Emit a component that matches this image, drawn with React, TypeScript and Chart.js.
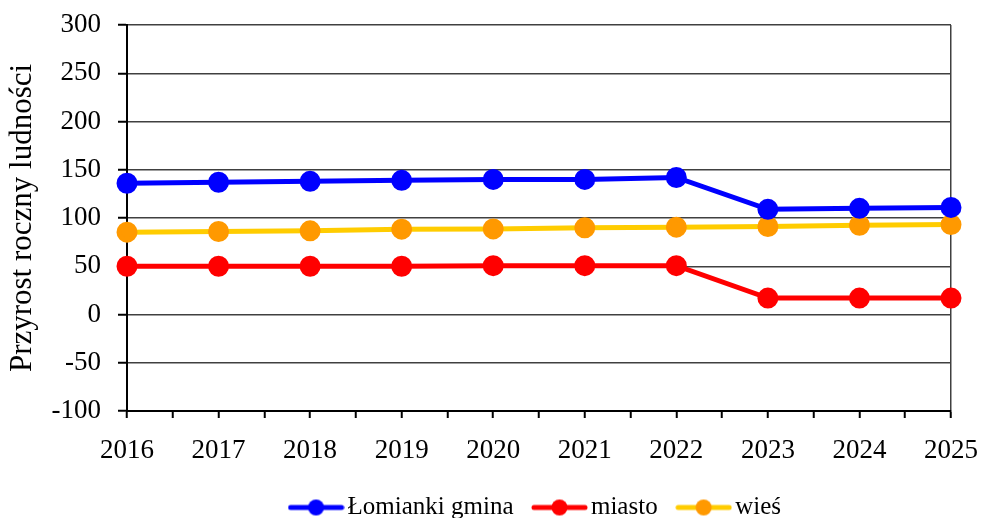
import React, { useEffect, useRef } from 'react';
import { Chart, registerables } from 'chart.js';

Chart.register(...registerables);

const years = ['2016', '2017', '2018', '2019', '2020', '2021', '2022', '2023', '2024', '2025'];
const gmina = [136, 137, 138, 139, 140, 140, 142, 109, 110, 111];
const miasto = [50, 50, 50, 50, 50.6, 50.6, 50.6, 17, 17, 17];
const wies = [85.3, 86, 86.7, 88.4, 88.7, 89.8, 90.5, 91.2, 92.5, 93.2];
const seriesNames = ['Łomianki gmina', 'miasto', 'wieś'];
const yMin = -100;
const yMax = 300;
const yStep = 50;

const lineColors = ['#0000FF', '#FF0000', '#FFCC00'];
const pointColors = ['#0000FF', '#FF0000', '#FF9900'];
const FONT = '"Liberation Serif", "Times New Roman", serif';

function makeIcon(line: string, dot: string): HTMLCanvasElement {
  const w = 57;
  const h = 18;
  const c = document.createElement('canvas');
  c.width = w;
  c.height = h;
  const ctx = c.getContext('2d')!;
  ctx.strokeStyle = line;
  ctx.lineWidth = 5;
  ctx.lineCap = 'round';
  ctx.beginPath();
  ctx.moveTo(3, h / 2);
  ctx.lineTo(w - 3, h / 2);
  ctx.stroke();
  ctx.fillStyle = dot;
  ctx.beginPath();
  ctx.arc(w / 2, h / 2, 8, 0, Math.PI * 2);
  ctx.fill();
  return c;
}

export default function App() {
  const ref = useRef<HTMLCanvasElement | null>(null);

  useEffect(() => {
    if (!ref.current) return;
    const icons = [0, 1, 2].map((i) => makeIcon(lineColors[i], pointColors[i]));
    const data = [gmina, miasto, wies];
    const lastIdx = years.length - 1;
    const chart = new Chart(ref.current, {
      type: 'line',
      data: {
        datasets: data.map((d, i) => ({
          label: seriesNames[i],
          data: d.map((v, k) => ({ x: k, y: v })),
          borderColor: lineColors[i],
          backgroundColor: pointColors[i],
          pointBackgroundColor: pointColors[i],
          pointBorderColor: pointColors[i],
          borderWidth: 5,
          pointRadius: 8,
          pointHoverRadius: 8,
          tension: 0,
          fill: false,
          clip: false as any,
        })),
      },
      options: {
        animation: false,
        responsive: true,
        maintainAspectRatio: false,
        layout: { padding: { top: 25, right: 31, bottom: 0, left: 0 } },
        plugins: {
          tooltip: { enabled: false },
          legend: {
            position: 'bottom',
            fullSize: false,
            labels: {
              color: '#000',
              font: { family: FONT, size: 25 },
              usePointStyle: true,
              pointStyleWidth: 38,
              padding: 27,
              generateLabels: (c: any) => {
                const items = Chart.defaults.plugins.legend.labels.generateLabels(c);
                items.forEach((it: any, i: number) => {
                  it.pointStyle = icons[i];
                });
                return items;
              },
            },
          },
        },
        scales: {
          x: {
            type: 'linear',
            min: 0,
            max: lastIdx,
            offset: false,
            afterFit: (s: any) => {
              s.height = 57;
              s.paddingLeft = 0;
              s.paddingRight = 0;
              s.paddingTop = 0;
              s.paddingBottom = 0;
            },
            border: { display: true, color: '#000', width: 2 },
            grid: {
              drawOnChartArea: true,
              color: (ctx: any) => (ctx.tick && ctx.tick.value === lastIdx ? '#404040' : 'rgba(0,0,0,0)'),
              lineWidth: 1.5,
              drawTicks: true,
              tickLength: 7,
              tickColor: '#000',
              tickWidth: 2,
            },
            ticks: {
              stepSize: 0.5,
              color: '#000',
              font: { family: FONT, size: 27 },
              padding: 17,
              maxRotation: 0,
              autoSkip: false,
              callback: (v: any) => (Number.isInteger(v) ? years[v] : ''),
            },
          },
          y: {
            min: yMin,
            max: yMax,
            afterFit: (s: any) => {
              s.width = 127;
              s.paddingTop = 0;
              s.paddingBottom = 0;
              s.paddingLeft = 0;
              s.paddingRight = 0;
            },
            border: { display: true, color: '#000', width: 2 },
            grid: {
              color: '#404040',
              lineWidth: 1.5,
              drawTicks: true,
              tickLength: 9,
              tickColor: '#000',
              tickWidth: 2,
            },
            ticks: {
              stepSize: yStep,
              color: '#000',
              font: { family: FONT, size: 27 },
              padding: 17,
            },
            title: {
              display: true,
              text: 'Przyrost roczny ludności',
              color: '#000',
              font: { family: FONT, size: 31 },
              padding: { top: 4, bottom: 0 },
            },
          },
        },
      },
    });
    return () => chart.destroy();
  }, []);

  return (
    <div style={{ position: 'fixed', left: 0, top: 0, width: 982, height: 518, overflow: 'hidden', background: '#fff' }}>
      <div style={{ position: 'relative', width: 982, height: 530 }}>
        <canvas ref={ref} />
      </div>
    </div>
  );
}
